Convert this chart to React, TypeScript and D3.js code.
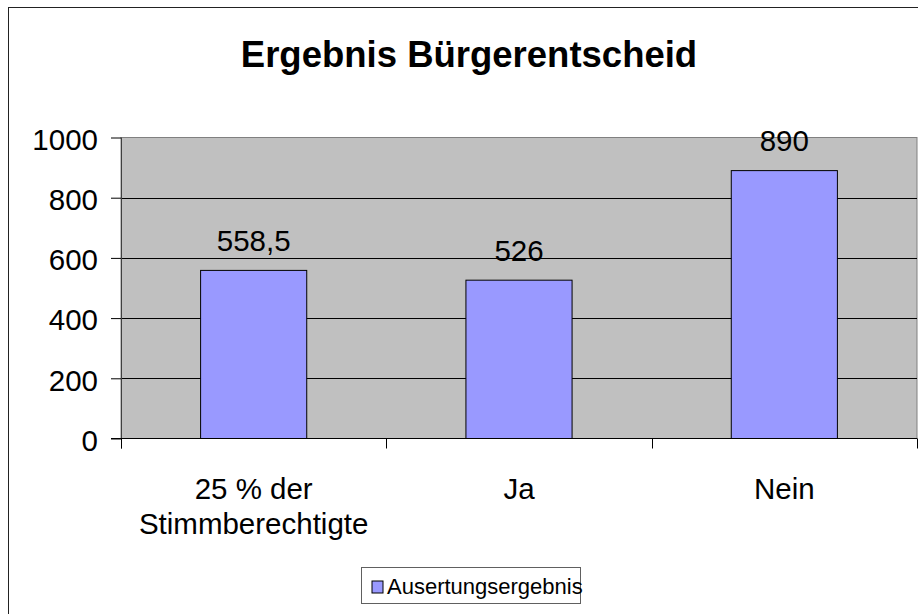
import React, { useEffect, useRef } from 'react';
import * as d3 from 'd3';

const title = 'Ergebnis Bürgerentscheid';
const categories = ['25 % der\nStimmberechtigte', 'Ja', 'Nein'];
const values = [558.5, 526, 890];
const seriesName = 'Ausertungsergebnis';
const yTicks = [0, 200, 400, 600, 800, 1000];

const W = 918;
const H = 614;
const FONT = '"Liberation Sans", Arial, sans-serif';

export default function App() {
  const ref = useRef<SVGSVGElement>(null);

  useEffect(() => {
    const svg = d3.select(ref.current);
    svg.selectAll('*').remove();

    const plot = { left: 121, right: 917, top: 137.5, bottom: 438.5 };

    const x = d3.scaleBand().domain(categories).range([plot.left, plot.right]);
    const y = d3.scaleLinear().domain([0, 1000]).range([plot.bottom, plot.top]);
    const barW = x.bandwidth() * 0.4;

    // outer chart frame (runs past the picture edge)
    svg
      .append('rect')
      .attr('x', 8.5)
      .attr('y', 7.5)
      .attr('width', 940)
      .attr('height', 640)
      .attr('fill', '#fff')
      .attr('stroke', '#222')
      .attr('stroke-width', 1);

    svg
      .append('text')
      .attr('x', 469)
      .attr('y', 66.5)
      .attr('text-anchor', 'middle')
      .attr('font-family', FONT)
      .attr('font-size', 36.5)
      .attr('font-weight', 'bold')
      .text(title);

    // plot area
    svg
      .append('rect')
      .attr('x', plot.left)
      .attr('y', plot.top)
      .attr('width', plot.right - plot.left)
      .attr('height', plot.bottom - plot.top)
      .attr('fill', '#c0c0c0')
      .attr('stroke', '#808080')
      .attr('stroke-width', 1);

    // gridlines
    svg
      .append('g')
      .selectAll('line')
      .data(yTicks.filter((t) => t > 0 && t < 1000))
      .join('line')
      .attr('x1', plot.left)
      .attr('x2', plot.right)
      .attr('y1', (d) => Math.round(y(d)) + 0.5)
      .attr('y2', (d) => Math.round(y(d)) + 0.5)
      .attr('stroke', '#000');

    // y axis
    const yAxis = svg
      .append('g')
      .attr('transform', `translate(${plot.left},0)`)
      .call(
        d3
          .axisLeft(y)
          .tickValues(yTicks)
          .tickFormat(d3.format('d'))
          .tickSize(10)
          .tickPadding(13)
          .tickSizeOuter(0)
      );
    yAxis.select('.domain').attr('stroke', '#404040').attr('d', `M0.5,${plot.top}V${plot.bottom + 10}`);
    yAxis.selectAll('.tick line').attr('stroke', '#000');
    yAxis
      .selectAll('.tick text')
      .attr('font-family', FONT)
      .attr('font-size', 29.5)
      .attr('fill', '#000')
      .attr('dy', '0.4em');

    // bars
    svg
      .append('g')
      .selectAll('rect')
      .data(values)
      .join('rect')
      .attr('x', (d, i) => (x(categories[i]) as number) + (x.bandwidth() - barW) / 2)
      .attr('y', (d) => y(d))
      .attr('width', barW)
      .attr('height', (d) => y(0) - y(d))
      .attr('fill', '#9999ff')
      .attr('stroke', '#000')
      .attr('stroke-width', 1);

    // value labels
    svg
      .append('g')
      .selectAll('text')
      .data(values)
      .join('text')
      .attr('x', (d, i) => (x(categories[i]) as number) + x.bandwidth() / 2)
      .attr('y', (d) => y(d) - 19.5)
      .attr('text-anchor', 'middle')
      .attr('font-family', FONT)
      .attr('font-size', 29.5)
      .text((d) => String(d).replace('.', ','));

    // x axis
    const xAxis = svg
      .append('g')
      .attr('transform', `translate(0,${plot.bottom})`);
    xAxis
      .append('line')
      .attr('x1', plot.left - 10)
      .attr('x2', plot.right)
      .attr('stroke', '#000');
    xAxis
      .selectAll('line.tick')
      .data([...categories.map((c) => x(c) as number), plot.right])
      .join('line')
      .attr('class', 'tick')
      .attr('x1', (d) => Math.round(d) + 0.5)
      .attr('x2', (d) => Math.round(d) + 0.5)
      .attr('y1', 0)
      .attr('y2', 10)
      .attr('stroke', '#000');

    const catLabels = svg
      .append('g')
      .selectAll('text')
      .data(categories)
      .join('text')
      .attr('x', (d) => (x(d) as number) + x.bandwidth() / 2)
      .attr('y', 499)
      .attr('text-anchor', 'middle')
      .attr('font-family', FONT)
      .attr('font-size', 29.5);
    catLabels
      .selectAll('tspan')
      .data((d) => d.split('\n').map((line) => ({ line, cx: (x(d) as number) + x.bandwidth() / 2 })))
      .join('tspan')
      .attr('x', (d) => d.cx)
      .attr('dy', (d, i) => (i === 0 ? 0 : 35))
      .text((d) => d.line);

    // legend
    const legend = svg.append('g');
    legend
      .append('rect')
      .attr('x', 361.5)
      .attr('y', 567.5)
      .attr('width', 219)
      .attr('height', 36)
      .attr('fill', '#fff')
      .attr('stroke', '#606060');
    legend
      .append('rect')
      .attr('x', 372)
      .attr('y', 581)
      .attr('width', 11)
      .attr('height', 12)
      .attr('fill', '#9999ff')
      .attr('stroke', '#000');
    legend
      .append('text')
      .attr('x', 387)
      .attr('y', 593.5)
      .attr('font-family', FONT)
      .attr('font-size', 22)
      .text(seriesName);
  }, []);

  return (
    <svg
      ref={ref}
      width={W}
      height={H}
      style={{ position: 'absolute', left: 0, top: 0, display: 'block', background: '#fff' }}
    />
  );
}
